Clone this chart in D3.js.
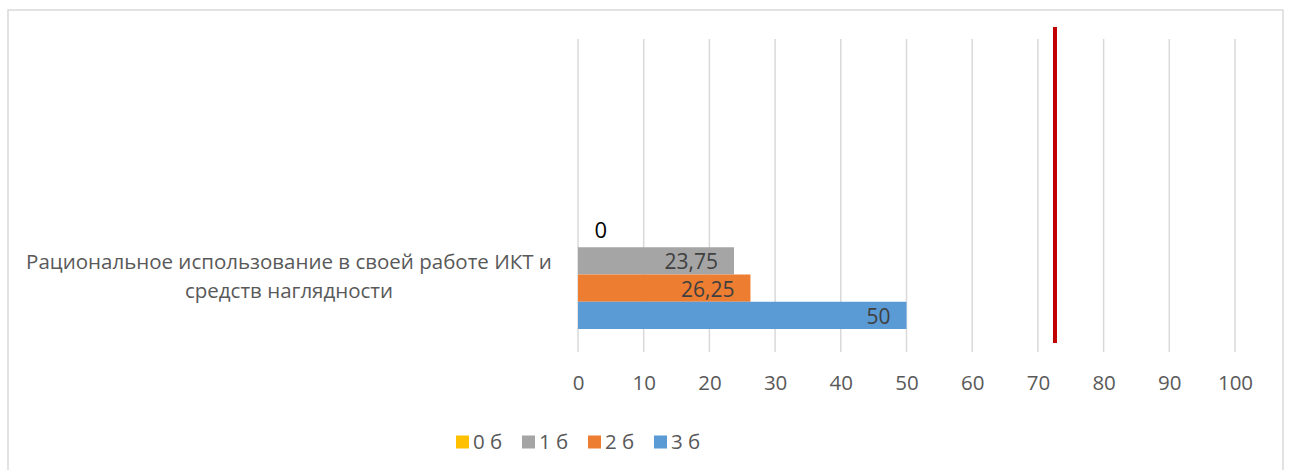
<!DOCTYPE html>
<html>
<head>
<meta charset="utf-8">
<script src="https://cdn.jsdelivr.net/npm/d3@7"></script>
<style>
  body { margin: 0; background: #fff; }
  text { font-family: "Open Sans", "Noto Sans", sans-serif; }
</style>
</head>
<body>
<script>
// data
const categories = ["Рациональное использование в своей работе ИКТ и средств наглядности"];
const categoryLines = [["Рациональное использование в своей работе ИКТ и", "средств наглядности"]];
const seriesNames = ["0 б", "1 б", "2 б", "3 б"];
const seriesValues = [0, 23.75, 26.25, 50];
const seriesLabels = ["0", "23,75", "26,25", "50"];
const xTicks = [0, 10, 20, 30, 40, 50, 60, 70, 80, 90, 100];
const markerValue = [72.6];
// ----------

const W = 1291, H = 470;
const colors = ["#FFC000", "#A5A5A5", "#ED7D31", "#5B9BD5"];
const gridCol = "#D9D9D9";
const textCol = "#595959";
const fs = 20.5;

const svg = d3.select("body").append("svg")
  .attr("width", W).attr("height", H);

// chart frame
svg.append("rect")
  .attr("x", 8).attr("y", 10)
  .attr("width", 1275).attr("height", 480)
  .attr("fill", "#fff").attr("stroke", gridCol).attr("stroke-width", 1.5);

// scales
const x = d3.scaleLinear().domain([0, 100]).range([578, 1235]);
const plotTop = 39, plotBottom = 352;
const yCat = d3.scalePoint().domain(categories).range([274.5, 274.5]);
const ySer = d3.scaleBand().domain(seriesNames).range([-54.5, 54.5]).padding(0);

// grid
svg.append("g").selectAll("line")
  .data(xTicks).enter().append("line")
  .attr("x1", d => x(d)).attr("x2", d => x(d))
  .attr("y1", plotTop).attr("y2", plotBottom)
  .attr("stroke", gridCol).attr("stroke-width", 1.5);

// axis labels
const xAxis = d3.axisBottom(x).tickValues(xTicks).tickSize(0).tickPadding(0);
const ax = svg.append("g").attr("transform", `translate(0, 383)`).call(xAxis);
ax.select(".domain").remove();
ax.selectAll("text")
  .attr("fill", textCol).attr("font-size", fs).attr("y", 0).attr("dy", "0.36em")
  .style("font-family", "'Open Sans', sans-serif");

// bars
const g = svg.append("g").attr("transform", `translate(0, ${yCat(categories[0])})`);
g.selectAll("rect")
  .data(seriesValues).enter().append("rect")
  .attr("x", x(0))
  .attr("y", (d, i) => ySer(seriesNames[i]))
  .attr("width", d => x(d) - x(0))
  .attr("height", ySer.bandwidth())
  .attr("fill", (d, i) => colors[i]);

// data labels
g.selectAll("text.lbl")
  .data(seriesValues).enter().append("text")
  .attr("class", "lbl")
  .text((d, i) => seriesLabels[i])
  .attr("x", d => d === 0 ? x(0) + 29 : x(d) - 16)
  .attr("y", (d, i) => ySer(seriesNames[i]) + ySer.bandwidth() / 2 + (d === 0 ? -4 : 1))
  .attr("dy", "0.36em")
  .attr("text-anchor", "end")
  .attr("font-size", d => d === 0 ? 22 : 21)
  .attr("fill", d => d === 0 ? "#000" : "#404040");

// category label
const cl = svg.append("text")
  .attr("text-anchor", "middle")
  .attr("fill", textCol)
  .attr("font-size", fs);
categoryLines[0].forEach((line, i) => {
  cl.append("tspan")
    .attr("x", 289)
    .attr("y", 262 + i * 29)
    .attr("dy", "0.36em")
    .text(line);
});

// red marker line
svg.selectAll("line.marker")
  .data(markerValue).enter().append("line")
  .attr("class", "marker")
  .attr("x1", d => x(d)).attr("x2", d => x(d))
  .attr("y1", 27).attr("y2", 343)
  .attr("stroke", "#C00000").attr("stroke-width", 4);

// legend
const legend = svg.append("g").attr("transform", "translate(456, 442)");
const legX = [0, 66, 132, 198];
const items = legend.selectAll("g")
  .data(seriesNames).enter().append("g")
  .attr("transform", (d, i) => `translate(${legX[i]}, 0)`);
items.append("rect")
  .attr("x", 0).attr("y", -6.5)
  .attr("width", 13).attr("height", 13)
  .attr("fill", (d, i) => colors[i]);
items.append("text")
  .text(d => d)
  .attr("x", 17).attr("y", 0).attr("dy", "0.36em")
  .attr("font-size", fs).attr("fill", textCol);
</script>
</body>
</html>
